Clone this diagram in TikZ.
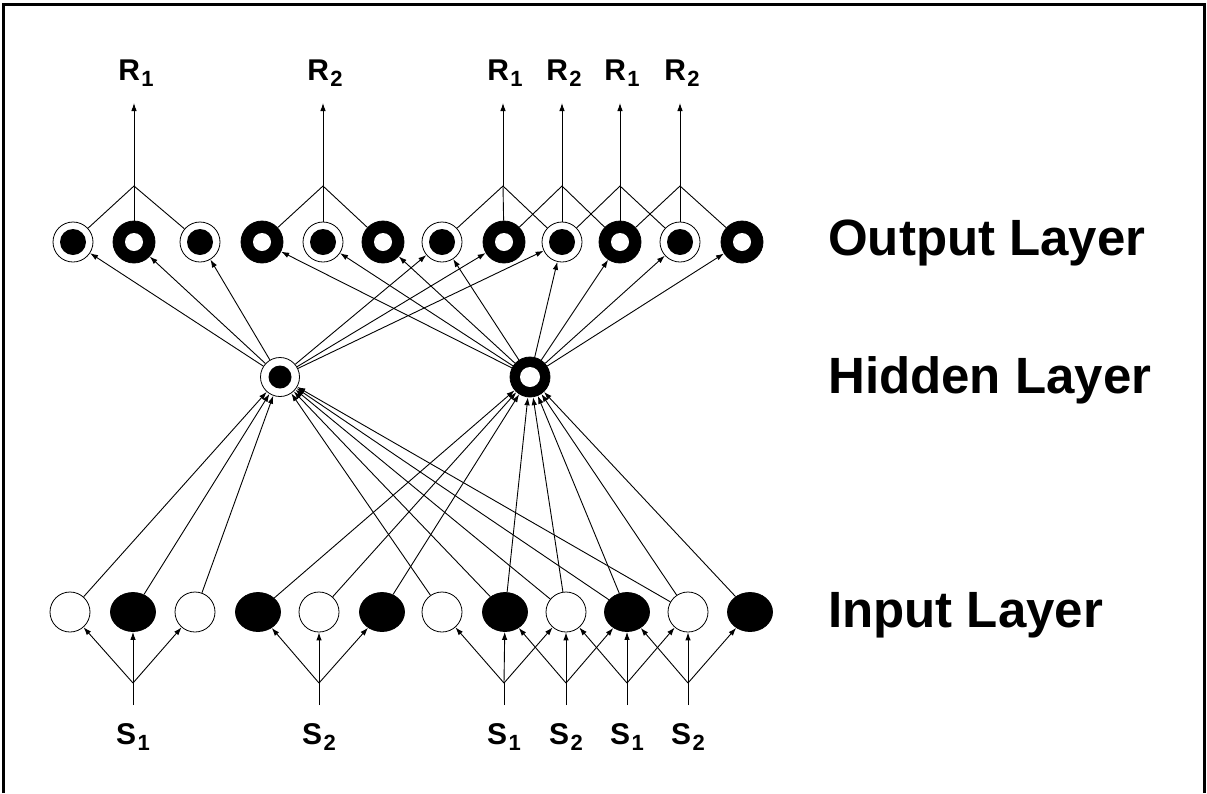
\documentclass[tikz,border=0pt]{standalone}
\usepackage{fontspec}
\setmainfont{Liberation Sans}
\usetikzlibrary{arrows.meta,shapes.geometric}

% label with a lowered, smaller index
\newcommand{\sublab}[2]{#1\kern1.5pt\raisebox{-0.4ex}{\fontsize{22}{22}\selectfont #2}}

\begin{document}
\begin{tikzpicture}[x=1pt,y=-1pt,
  conn/.style={line width=0.9pt},
  arr/.style={conn,-{Latex[length=8pt,width=5.5pt]}},
  wcirc/.style={circle,draw,line width=0.8pt,fill=white,minimum size=40pt,inner sep=0pt},
  bellip/.style={ellipse,draw,line width=0.8pt,fill=black,minimum width=45pt,minimum height=39pt,inner sep=0pt},
  dotnode/.style={wcirc,path picture={\fill[black] (path picture bounding box.center) circle (13pt);}},
  ringnode/.style={circle,draw,line width=0.8pt,fill=black,minimum size=42pt,inner sep=0pt,
    path picture={\fill[white] (path picture bounding box.center) circle (9pt);}},
  hdot/.style={wcirc,minimum size=39pt,path picture={\fill[black] (path picture bounding box.center) circle (11.5pt);}},
  hring/.style={ringnode,minimum size=40pt,path picture={\fill[white] (path picture bounding box.center) circle (10pt);}},
  lab/.style={font=\fontsize{30}{30}\selectfont\bfseries,inner sep=0pt},
  layer/.style={font=\fontsize{51}{51}\selectfont\bfseries,anchor=west,inner sep=0pt}
]
\useasboundingbox (0,0) rectangle (1207,793);

% frame, open at the bottom
\draw[line width=3pt] (3,793) -- (3,4) -- (1204,4) -- (1204,793);

% output layer
\node[dotnode]  (o1)  at (73,242)  {};
\node[ringnode] (o2)  at (134,242) {};
\node[dotnode]  (o3)  at (200,242) {};
\node[ringnode] (o4)  at (262,242) {};
\node[dotnode]  (o5)  at (323,242) {};
\node[ringnode] (o6)  at (383,242) {};
\node[dotnode]  (o7)  at (442,242) {};
\node[ringnode] (o8)  at (504,242) {};
\node[dotnode]  (o9)  at (562,242) {};
\node[ringnode] (o10) at (620,242) {};
\node[dotnode]  (o11) at (680,242) {};
\node[ringnode] (o12) at (742,242) {};

% hidden layer
\node[hdot]  (h1) at (280,377) {};
\node[hring] (h2) at (530,377) {};

% input layer
\node[wcirc]  (i1)  at (70,612)  {};
\node[bellip] (i2)  at (133,612) {};
\node[wcirc]  (i3)  at (195,612) {};
\node[bellip] (i4)  at (258,612) {};
\node[wcirc]  (i5)  at (319,612) {};
\node[bellip] (i6)  at (382,612) {};
\node[wcirc]  (i7)  at (442,612) {};
\node[bellip] (i8)  at (505,612) {};
\node[wcirc]  (i9)  at (566,612) {};
\node[bellip] (i10) at (627,612) {};
\node[wcirc]  (i11) at (688,612) {};
\node[bellip] (i12) at (750,612) {};

% layer names
\node[layer] (lout) at (828,243) {Output Layer};
\node[layer] (lhid) at (828,380) {Hidden Layer};
\node[layer] (lin)  at (828,615) {Input Layer};

% response labels, their arrow tips and the junctions below them
\foreach \n/\x/\r in {1/134/1,2/323/2,3/503/1,4/562/2,5/620/1,6/680/2}{
  \node[lab] (R\n) at (\x+2,73) {\sublab{R}{\r}};
  \coordinate (t\n) at (\x,103);
  \coordinate (r\n) at (\x,186);
  \draw[arr] (r\n) -- (t\n);
}
\foreach \j/\a/\b/\c in {1/1/2/3,2/4/5/6,3/7/8/9,4/8/9/10,5/9/10/11,6/10/11/12}{
  \draw[conn] (o\a) -- (r\j) -- (o\c);
  \draw[conn] (r\j) -- (o\b);
}

% stimulus labels, their line ends and the junctions above them
\foreach \n/\x/\s in {1/133/1,2/319/2,3/504/1,4/566/2,5/627/1,6/688/2}{
  \node[lab] (S\n) at (\x,737) {\sublab{S}{\s}};
  \coordinate (b\n) at (\x,705);
  \coordinate (s\n) at (\x,683);
  \draw[conn] (b\n) -- (s\n);
}
\foreach \j/\a/\b/\c in {1/1/2/3,2/4/5/6,3/7/8/9,4/8/9/10,5/9/10/11,6/10/11/12}{
  \draw[arr] (s\j) -- (i\a);
  \draw[arr] (s\j) -- (i\b);
  \draw[arr] (s\j) -- (i\c);
}

% hidden to output
\foreach \k in {1,2,3,7,8,9}{ \draw[arr] (h1) -- (o\k); }
\foreach \k in {4,5,6,7,9,10,11,12}{ \draw[arr] (h2) -- (o\k); }

% input to hidden
\foreach \k in {1,2,3,7,8,9,10,11}{ \draw[arr] (i\k) -- (h1); }
\foreach \k in {4,5,6,8,9,10,11,12}{ \draw[arr] (i\k) -- (h2); }

\end{tikzpicture}
\end{document}
